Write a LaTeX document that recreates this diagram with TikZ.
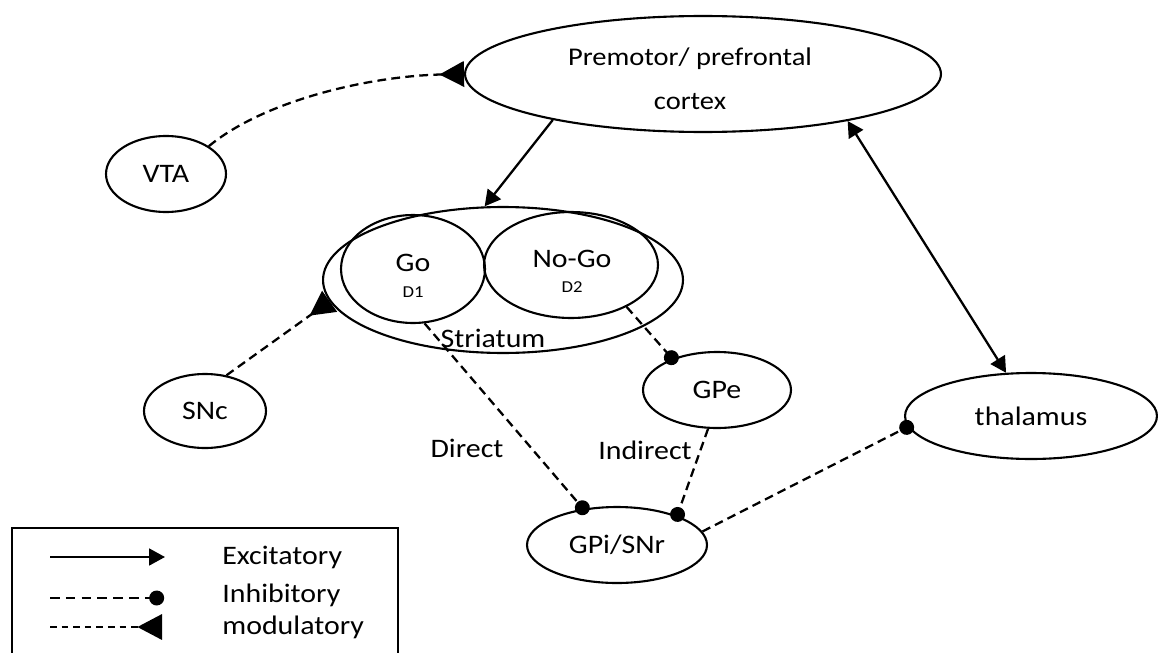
\documentclass[tikz,border=0pt]{standalone}
\usepackage{fontspec}
\setmainfont{Carlito}[FakeStretch=1.12]
\usetikzlibrary{shapes.geometric,arrows.meta}

\begin{document}
\begin{tikzpicture}[x=0.02cm,y=-0.02cm,
  region/.style={ellipse,draw,line width=1.2pt,inner sep=0pt,
    font=\fontsize{15.2}{18}\selectfont},
  lbl/.style={inner sep=0pt,font=\fontsize{15.2}{18}\selectfont},
  sub/.style={inner sep=0pt,font=\fontsize{9.5}{11}\selectfont},
  excit/.style={line width=1.3pt,-{Triangle[length=9pt,width=9.5pt]}},
  excitboth/.style={line width=1.3pt,{Triangle[length=9pt,width=9.5pt]}-{Triangle[length=9pt,width=9.5pt]}},
  inhib/.style={line width=1.3pt,dash pattern=on 5pt off 3pt,
    -{Circle[length=8.5pt]},shorten >=-3.5pt},
  modul/.style={line width=1.3pt,dash pattern=on 5pt off 3pt,
    -{Triangle[reversed,length=14pt,width=14.5pt]}},
]
\useasboundingbox (0,0) rectangle (1158,652);
\clip (0,0) rectangle (1158,652);

% brain regions
\node[region,minimum width=9.52cm,minimum height=2.32cm] (cortex) at (703,74) {};
\node[lbl,align=center,font=\fontsize{14.5}{17}\selectfont] (cortexlbl) at (690,79) {Premotor/ prefrontal\\[8pt]cortex};

\node[region,minimum width=2.4cm,minimum height=1.52cm] (vta) at (166,174) {VTA};

\node[region,minimum width=7.2cm,minimum height=2.92cm] (striatum) at (503,280) {};
\node[region,minimum width=2.88cm,minimum height=2.16cm] (go) at (413,269) {};
\node[region,minimum width=3.48cm,minimum height=2.12cm] (nogo) at (571,265) {};
\node[lbl] (golbl) at (413,263) {Go};
\node[sub] (d1) at (413,292) {D1};
\node[lbl] (nogolbl) at (572,259) {No-Go};
\node[sub] (d2) at (572,287) {D2};
\node[lbl] (striatumlbl) at (493,338) {Striatum};

\node[region,minimum width=2.44cm,minimum height=1.48cm] (snc) at (205,411) {SNc};
\node[region,minimum width=2.96cm,minimum height=1.52cm] (gpe) at (717,390) {GPe};
\node[region,minimum width=5.04cm,minimum height=1.72cm] (thalamus) at (1031,416) {thalamus};
\node[region,minimum width=3.6cm,minimum height=1.52cm] (gpi) at (617,545) {GPi/SNr};

% pathway labels
\node[lbl] (direct) at (467,448) {Direct};
\node[lbl] (indirect) at (645,450) {Indirect};

% connections
\draw[excit] (cortex.197) -- (striatum.104);
\draw[excitboth] (cortex.342) -- (thalamus.120);
\draw[modul] (vta.33) .. controls (265,100) and (370,76) .. (cortex.180);
\draw[modul] (snc.59) -- (striatum.187);
\draw[inhib] (go.282) -- (gpi.133);
\draw[inhib] (nogo.323) -- (gpe.145);
\draw[inhib] (gpe.257) -- (gpi.26);
\draw[inhib] (gpi.9) -- (thalamus.185);

% legend
\draw[line width=1.1pt] (12,528) rectangle (398,700);
\coordinate (ex0) at (50,557);
\coordinate (ex1) at (165,557);
\coordinate (in0) at (50,598);
\coordinate (in1) at (158,598);
\coordinate (mo0) at (50,627);
\coordinate (mo1) at (162,627);
\draw[excit] (ex0) -- (ex1);
\draw[inhib,dash pattern=on 5.5pt off 3.5pt] (in0) -- (in1);
\draw[modul,line width=1pt,dash pattern=on 3.8pt off 2.8pt] (mo0) -- (mo1);
\node[lbl,anchor=west] (exlbl) at (222,557) {Excitatory};
\node[lbl,anchor=west] (inlbl) at (222,595) {Inhibitory};
\node[lbl,anchor=west] (molbl) at (222,627) {modulatory};
\end{tikzpicture}
\end{document}
